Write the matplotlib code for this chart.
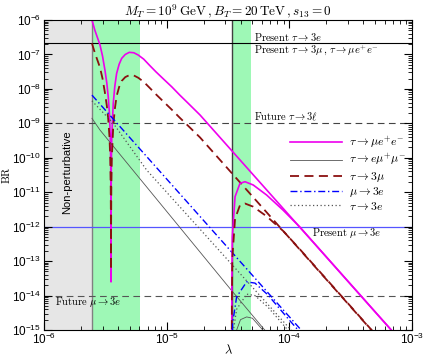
import matplotlib
matplotlib.use("Agg")
import matplotlib.pyplot as plt
import numpy as np

# Regions (lambda)
nonpert_edge = 2.46e-6
band1 = [2.46e-6, 6.05e-6]
band2 = [3.39e-5, 4.84e-5]

# Experimental limits
present_tau = 2.1e-7
future_tau = 1e-9
present_mu = 1e-12
future_mu = 1e-14

# Curves, first set (start at the non-perturbative edge)
lam_set1 = [2.46e-6, 2.6e-6, 2.86e-6, 3.0e-6, 3.14e-6, 3.25e-6, 3.34e-6, 3.42e-6, 3.47e-6,
            3.50e-6, 3.515e-6, 3.52e-6, 3.525e-6, 3.54e-6, 3.57e-6, 3.67e-6, 3.78e-6, 3.91e-6,
            4.1e-6, 4.3e-6, 4.6e-6, 4.96e-6, 5.4e-6, 5.87e-6, 6.5e-6, 7.31e-6, 8.2e-6, 9.4e-6,
            1.1e-5, 1.28e-5, 1.5e-5, 1.87e-5, 1e-3]
br_mee1 = [1.0e-6, 5.0e-7, 1.9e-7, 9e-8, 3.5e-8, 1.5e-8, 5.9e-9, 1.8e-9, 4e-10,
           6e-11, 3e-12, 2.5e-14, 4e-12, 6.8e-11, 4.2e-10, 3.8e-9, 1.2e-8, 2.8e-8,
           5.2e-8, 7.7e-8, 1.0e-7, 1.15e-7, 1.12e-7, 9.6e-8, 7.3e-8, 4.7e-8, 3.1e-8, 1.95e-8,
           1.15e-8, 6.6e-9, 3.8e-9, 1.75e-9, 2.1e-16]
br_3mu1 = [2.1e-7, 1.1e-7, 4.2e-8, 2.0e-8, 7.7e-9, 3.3e-9, 1.3e-9, 4.0e-10, 8.8e-11,
           1.3e-11, 6.6e-13, 5.5e-14, 8.8e-13, 1.5e-11, 9.2e-11, 8.4e-10, 2.6e-9, 6.2e-9,
           1.14e-8, 1.7e-8, 2.2e-8, 2.5e-8, 2.45e-8, 2.1e-8, 1.6e-8, 1.05e-8, 6.9e-9, 4.3e-9,
           2.5e-9, 1.45e-9, 8.4e-10, 3.9e-10, 4.7e-17]

lam_emm1 = [2.46e-6, 2.86e-6, 3.28e-5, 6.3e-5, 1e-4]
br_emm1 = [1.4e-9, 6.4e-10, 1.6e-14, 1.0e-15, 1.4e-16]

lam_mu3e1 = [2.46e-6, 1.3e-4]
br_mu3e1 = [6.6e-9, 8.5e-16]

lam_t3e1 = [2.46e-6, 3.67e-6, 6.87e-6, 9.75e-5, 2e-4]
br_t3e1 = [4.5e-9, 1.0e-9, 4.4e-11, 1.25e-15, 7.0e-17]

# Curves, second set (start at the second band)
lam_set2 = [3.39e-5, 3.40e-5, 3.43e-5, 3.61e-5, 3.96e-5, 4.35e-5, 5.08e-5, 6.53e-5, 8.91e-5, 1.22e-4, 1e-3]
br_mee2 = [1e-17, 2.2e-14, 5.1e-13, 7.4e-12, 1.81e-11, 2.02e-11, 1.62e-11, 8.3e-12, 3.0e-12, 9.7e-13, 2.1e-16]
br_3mu2 = [1e-17, 5e-15, 1.2e-13, 1.7e-12, 4.2e-12, 4.7e-12, 3.8e-12, 2.0e-12, 7.5e-13, 2.2e-13, 4.8e-17]

lam_emm2 = [3.45e-5, 3.72e-5, 4.0e-5, 4.49e-5, 5.0e-5, 5.94e-5, 7.0e-5]
br_emm2 = [1e-16, 1.0e-15, 2.0e-15, 2.4e-15, 2.2e-15, 1.1e-15, 5e-16]

lam_mu3e2 = [3.39e-5, 3.45e-5, 3.72e-5, 4.49e-5, 5.25e-5, 6.7e-5, 9.5e-5, 1.15e-4, 1.5e-4]
br_mu3e2 = [1e-16, 1.6e-15, 9.2e-15, 2.5e-14, 2.3e-14, 1.04e-14, 2.4e-15, 1.1e-15, 3.5e-16]

lam_t3e2 = [3.39e-5, 3.45e-5, 3.72e-5, 4.49e-5, 5.25e-5, 6.7e-5, 9.5e-5, 1.2e-4]
br_t3e2 = [1e-16, 7e-16, 4.0e-15, 1.1e-14, 1.0e-14, 4.6e-15, 1.1e-15, 4e-16]

plt.rcParams["font.family"] = ["Liberation Sans", "DejaVu Sans"]
plt.rcParams["mathtext.fontset"] = "custom"
plt.rcParams["mathtext.rm"] = "Liberation Sans"
plt.rcParams["mathtext.it"] = "Liberation Sans:italic"
plt.rcParams["mathtext.bf"] = "Liberation Sans:bold"

fig = plt.figure(figsize=(4.25, 3.57), dpi=100)
ax = fig.add_axes([0.1035, 0.0756, 0.8659, 0.8684])

ax.set_xscale("log")
ax.set_yscale("log")
ax.set_xlim(1e-6, 1e-3)
ax.set_ylim(1e-15, 1e-6)

# shaded regions
ax.axvspan(1e-6, nonpert_edge, color="#e6e6e6", lw=0, zorder=0)
ax.axvspan(band1[0], band1[1], color="#9ef8b6", lw=0, zorder=0)
ax.axvspan(band2[0], band2[1], color="#9ef8b6", lw=0, zorder=0)
ax.axvline(nonpert_edge, color="#808080", lw=1.0, zorder=1)
ax.axvline(band2[0], color="#404040", lw=1.0, zorder=1)

# limits
ax.axhline(present_tau, color="black", lw=0.8, zorder=1)
ax.axhline(future_tau, color="#444444", lw=0.8, dashes=(6, 4), zorder=1)
ax.axhline(present_mu, color="#5555ff", lw=0.9, zorder=1)
ax.axhline(future_mu, color="#555555", lw=0.8, dashes=(6, 4), zorder=1)

# curves
ax.plot(lam_set1, br_mee1, color="#ee00ee", lw=1.2, label=r"$\tau\rightarrow\mu e^{+}e^{-}$")
ax.plot(lam_emm1, br_emm1, color="#555555", lw=0.6, label=r"$\tau\rightarrow e\mu^{+}\mu^{-}$")
ax.plot(lam_set1, br_3mu1, color="#8b1010", lw=1.3, dashes=(5, 3), label=r"$\tau\rightarrow 3\mu$")
ax.plot(lam_mu3e1, br_mu3e1, color="#0000ff", lw=1.0, dashes=(5, 2, 1, 2), label=r"$\mu\rightarrow 3e$")
ax.plot(lam_t3e1, br_t3e1, color="#555555", lw=0.9, dashes=(1, 2), label=r"$\tau\rightarrow 3e$")

ax.plot(lam_set2, br_mee2, color="#ee00ee", lw=1.2)
ax.plot(lam_emm2, br_emm2, color="#555555", lw=0.6)
ax.plot(lam_set2, br_3mu2, color="#8b1010", lw=1.3, dashes=(5, 3))
ax.plot(lam_mu3e2, br_mu3e2, color="#0000ff", lw=1.0, dashes=(5, 2, 1, 2))
ax.plot(lam_t3e2, br_t3e2, color="#555555", lw=0.9, dashes=(1, 2))

# limit labels
cm = dict(fontsize=7.5, va="center", math_fontfamily="cm")
ax.text(5.2e-5, 3.2e-7, r"$\mathrm{Present}\ \tau\rightarrow 3e$", **cm)
ax.text(5.2e-5, 1.26e-7, r"$\mathrm{Present}\ \tau\rightarrow 3\mu\,,\,\tau\rightarrow\mu e^{+}e^{-}$", **cm)
ax.text(5.2e-5, 1.53e-9, r"$\mathrm{Future}\ \tau\rightarrow 3\ell$", **cm)
ax.text(5.65e-4, 6.7e-13, r"$\mathrm{Present}\ \mu\rightarrow 3e$", ha="right", **cm)
ax.text(1.23e-6, 6.6e-15, r"$\mathrm{Future}\ \mu\rightarrow 3e$", **cm)
ax.text(1.53e-6, 3.9e-11, "Non-perturbative", rotation=90, fontsize=8, ha="center", va="center")

ax.set_title(r"$M_T = 10^9\,\mathrm{GeV}\,,B_T = 20\,\mathrm{TeV}\,,s_{13} = 0$", fontsize=9.5, pad=3,
             math_fontfamily="cm")
ax.set_xlabel(r"$\lambda$", fontsize=9, labelpad=-2.5, math_fontfamily="cm")
ax.set_ylabel(r"$\mathrm{BR}$", fontsize=8, labelpad=0, math_fontfamily="cm")

ax.tick_params(which="both", direction="in", top=True, right=True, labelsize=8.5)
ax.tick_params(which="major", length=6, pad=2)
ax.tick_params(axis="x", which="major", pad=1.5)
ax.tick_params(which="minor", length=3)
ax.yaxis.set_major_locator(matplotlib.ticker.LogLocator(base=10, numticks=20))
ax.yaxis.set_minor_locator(matplotlib.ticker.LogLocator(base=10, subs=np.arange(2, 10), numticks=20))

leg = ax.legend(loc="center left", bbox_to_anchor=(0.64, 0.505), frameon=False, fontsize=8.5,
                handlelength=4.4, handletextpad=0.6, labelspacing=0.12)
for t in leg.get_texts():
    t.set_math_fontfamily("cm")

fig.savefig("out.png", dpi=100)
